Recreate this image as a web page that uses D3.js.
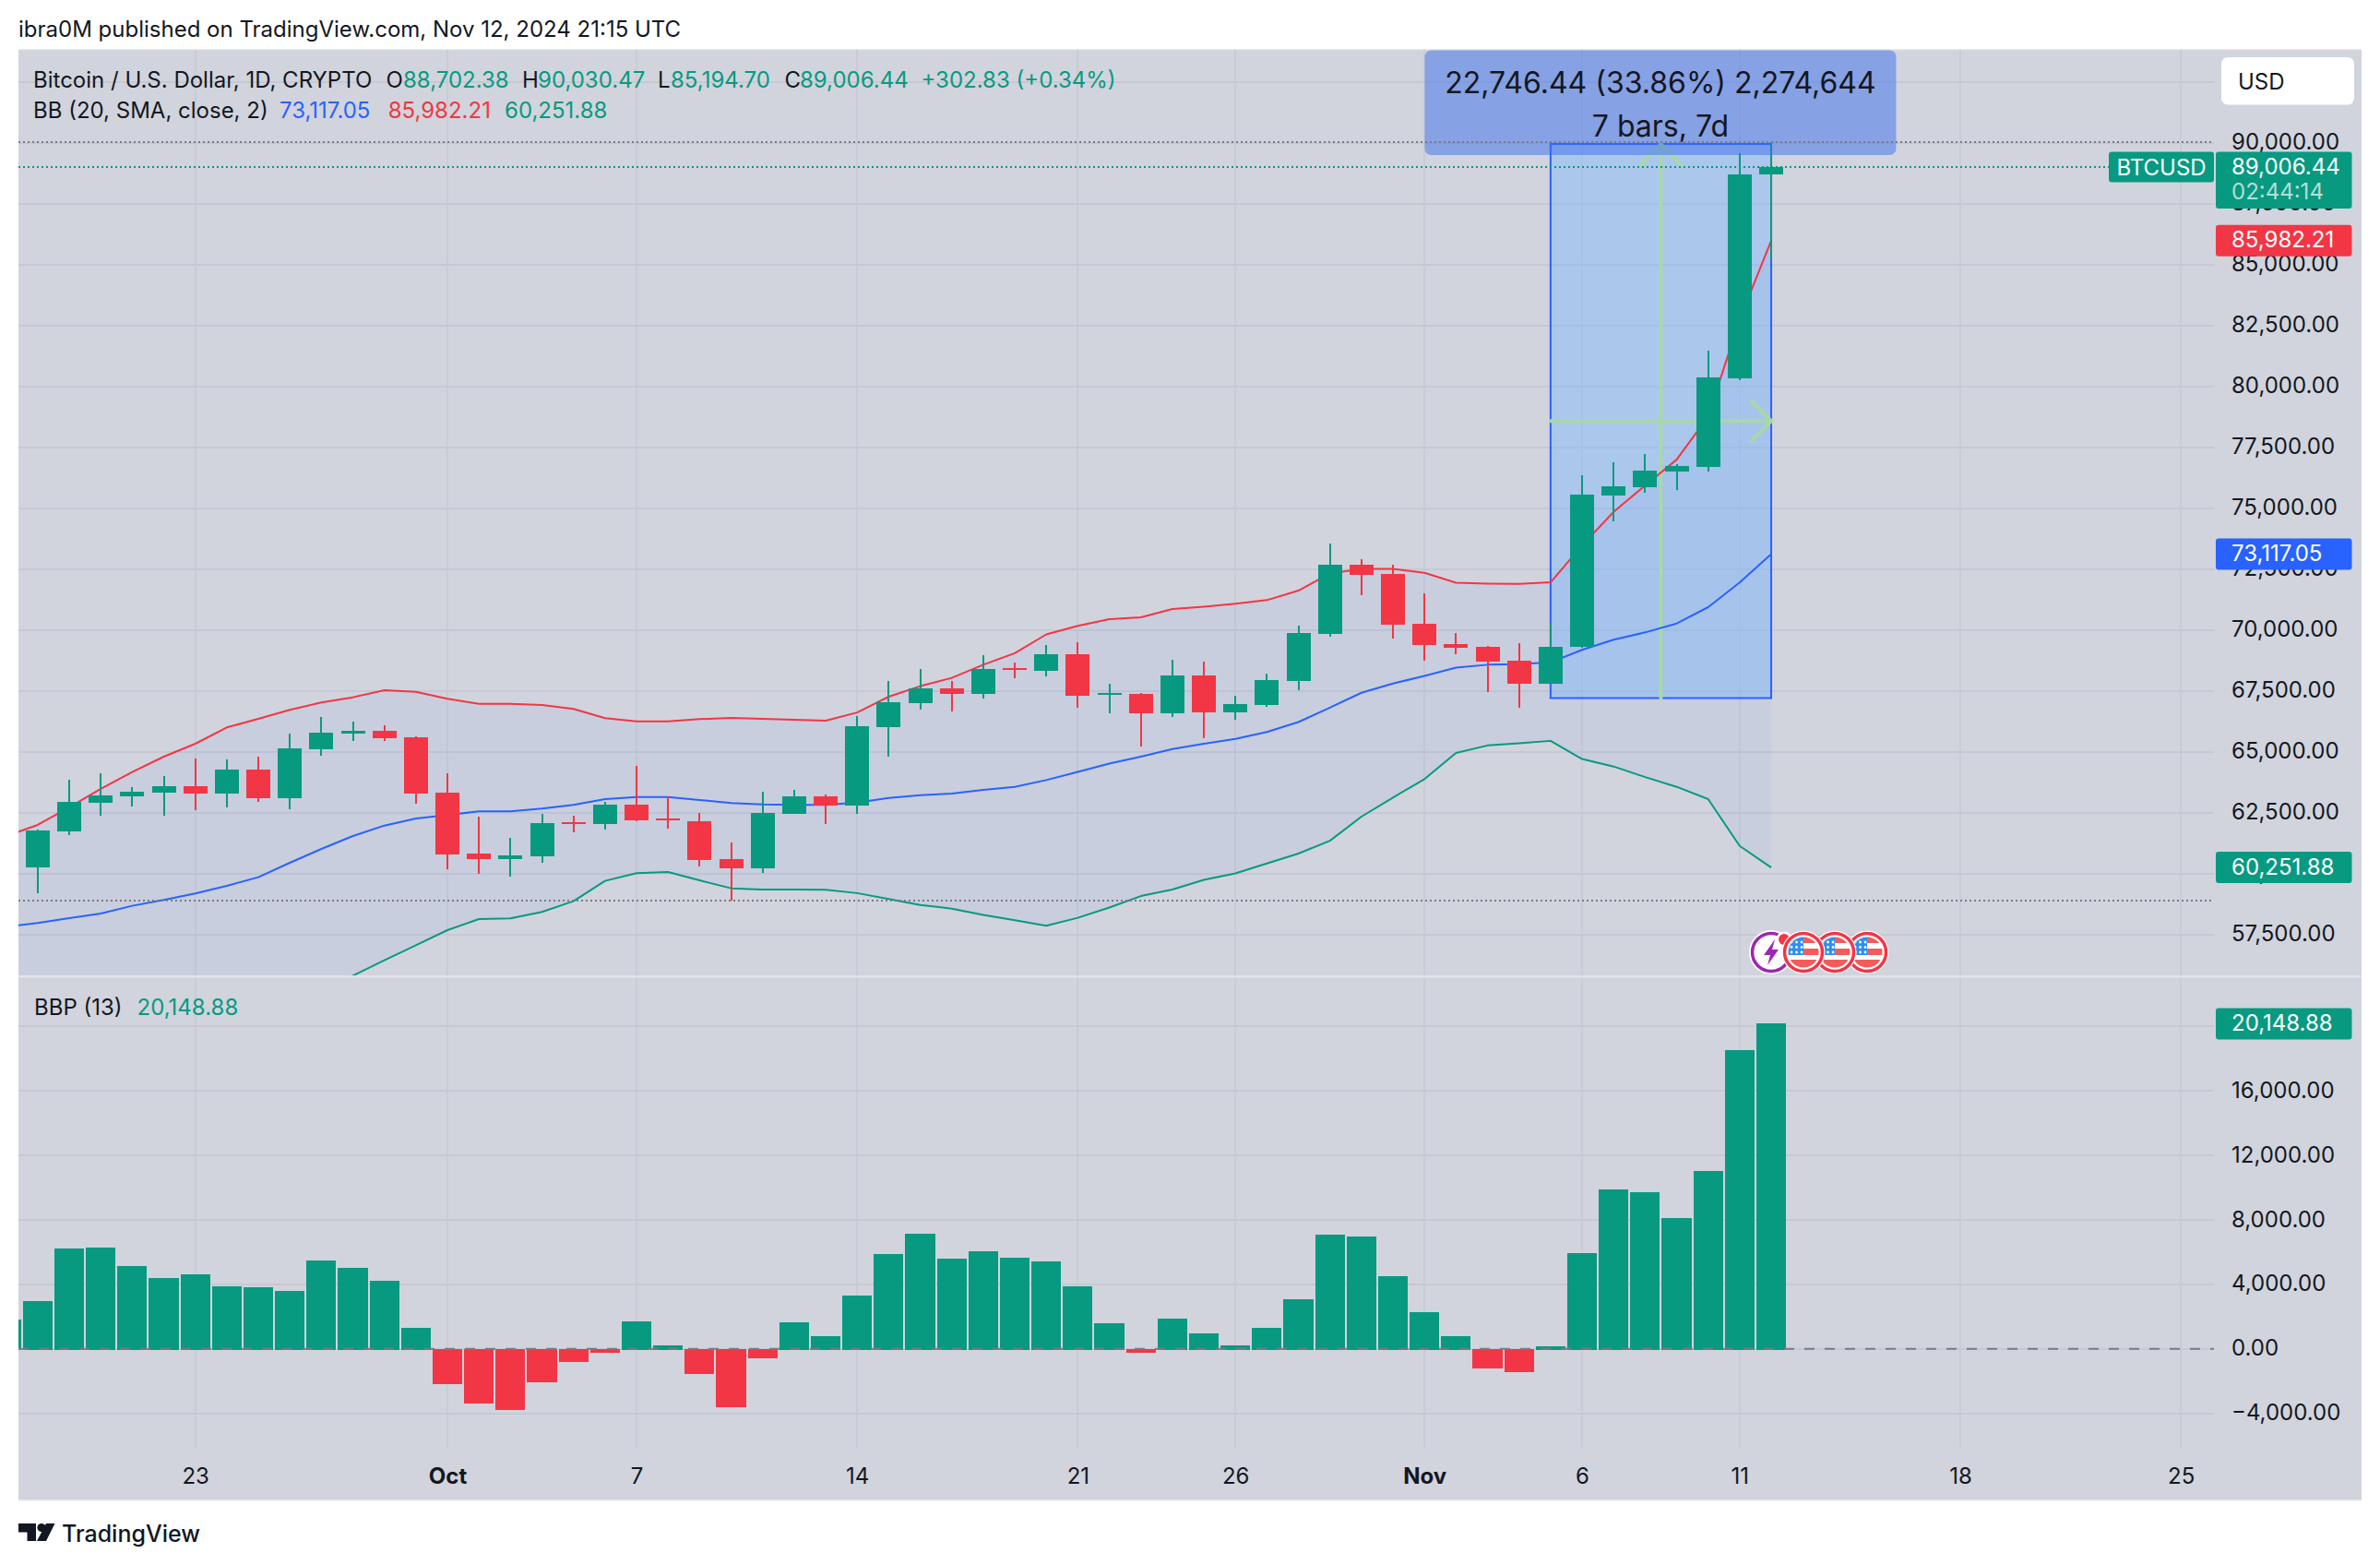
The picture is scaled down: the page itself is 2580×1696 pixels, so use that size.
<!DOCTYPE html>
<html>
<head>
<meta charset="utf-8">
<style>
html,body{margin:0;padding:0;background:#fff}
svg{display:block}
text{font-family:Inter,"Noto Sans",sans-serif;fill:#131722}
</style>
<script src="https://cdn.jsdelivr.net/npm/d3@7/dist/d3.min.js"></script>
</head>
<body>
<script>
const days = ["2024-09-17","2024-09-18","2024-09-19","2024-09-20","2024-09-21","2024-09-22","2024-09-23","2024-09-24","2024-09-25","2024-09-26","2024-09-27","2024-09-28","2024-09-29","2024-09-30",
"2024-10-01","2024-10-02","2024-10-03","2024-10-04","2024-10-05","2024-10-06","2024-10-07","2024-10-08","2024-10-09","2024-10-10","2024-10-11","2024-10-12","2024-10-13","2024-10-14","2024-10-15","2024-10-16","2024-10-17","2024-10-18","2024-10-19","2024-10-20","2024-10-21","2024-10-22","2024-10-23","2024-10-24","2024-10-25","2024-10-26","2024-10-27","2024-10-28","2024-10-29","2024-10-30","2024-10-31",
"2024-11-01","2024-11-02","2024-11-03","2024-11-04","2024-11-05","2024-11-06","2024-11-07","2024-11-08","2024-11-09","2024-11-10","2024-11-11","2024-11-12"];

// Candles start on 2024-09-18 (days[1])
const opens = [60254,61732,62906,63171,63323,63588,63285,64270,63095,65103,65747,65860,65595,63323,60823,60595,60709,62111,62035,62831,62262,62148,60595,60217,62452,63176,62797,66017,66990,67599,67369,68438,68316,69006,67342,67369,66585,68127,66612,66923,67910,69831,72672,72293,70251,69425,69304,68736,67789,69304,75514,75861,76499,76688,80326,88702.38];
const highs = [61800,63853,64118,63550,64004,64724,64686,64800,65747,66429,66239,66088,65633,64118,62338,61466,62452,62376,62944,64421,63171,62489,61277,63361,63433,63243,66463,67910,68397,67910,68965,68668,69385,69493,67789,67410,68776,68695,67302,68208,70183,73552,72902,72672,71509,69872,69344,69453,70291,76354,76876,77224,76800,81457,89575,90030.47];
const lows = [59207,61580,62376,62755,62376,62603,62716,62944,62641,64838,65444,65444,62868,60179,59989,59876,60444,61694,61807,62149,61846,60292,58891,60027,62445,62039,62445,64799,66733,66652,67180,68019,68100,66801,66585,65218,66422,65556,66314,66842,67532,69723,71428,69642,68736,69006,67450,66801,67789,69263,74455,75630,75745,76514,80268,85194.70];
const closes = [61770,62944,63209,63361,63588,63285,64270,63095,65141,65785,65860,65557,63285,60785,60595,60747,62073,62035,62831,62186,62186,60557,60217,62489,63171,62797,66044,67031,67599,67369,68397,68357,69006,67302,67410,66585,68127,66612,66964,67937,69872,72672,72266,70210,69385,69263,68695,67789,69304,75557,75891,76543,76731,80370,88706,89006.44];

// Bollinger bands from 2024-09-17 (the lower band's first values lie below the visible pane)
const bbUpper = [61542,61997,62717,63474,64168,64800,65330,65999,66353,66719,67022,67237,67527,67464,67173,66971,66971,66921,66757,66378,66252,66252,66340,66391,66353,66315,66274,66612,67261,67694,68032,68573,69047,69818,70170,70440,70521,70860,70954,71076,71225,71617,72320,72510,72510,72348,71942,71901,71888,71955,73469,74846,75933,76992,78761,82747,85982.21];
const bbBasis = [57818,57969,58171,58361,58677,58916,59181,59497,59850,60444,61012,61542,61971,62262,62401,62553,62553,62666,62818,63058,63146,63146,63020,62893,62843,62824,62824,62919,63108,63216,63284,63433,63555,63838,64177,64515,64799,65110,65327,65530,65814,66219,66815,67423,67802,68113,68452,68573,68600,68668,69182,69600,69900,70265,70936,71947,73117.05];
const bbLower = [53058,53058,53058,53058,53184,53310,53499,53815,54194,54636,55204,55810,56441,57060,57679,58133,58158,58424,58866,59699,60015,60065,59724,59396,59345,59347,59334,59198,58955,58711,58562,58305,58089,57859,58184,58604,59077,59347,59740,60010,60416,60822,61349,62337,63122,63879,64948,65259,65353,65448,64704,64395,63963,63561,63057,61136,60251.88];

// BBP (13) histogram from 2024-09-17
const bbp = [1810,2946,6218,6264,5127,4385,4617,3874,3805,3573,5475,5011,4199,1299,-2204,-3410,-3805,-2088,-835,-255,1694,209,-1578,-3619,-603,1624,766,3294,5870,7122,5591,6032,5638,5406,3874,1578,-255,1856,951,209,1299,3062,7076,6960,4501,2274,766,-1230,-1462,139,5916,9860,9698,8097,11020,18514,20148.88];

const priceGrid = [92500,90000,87500,85000,82500,80000,77500,75000,72500,70000,67500,65000,62500,60000,57500];
const priceLabels = [90000,87500,85000,82500,80000,77500,75000,72500,70000,67500,65000,62500,60000,57500];
const bbpTicks = [20000,16000,12000,8000,4000,0,-4000];
const bbpLabels = [16000,12000,8000,4000,0,-4000];
const timeTicks = ["2024-09-23","2024-10-01","2024-10-07","2024-10-14","2024-10-21","2024-10-26","2024-11-01","2024-11-06","2024-11-11","2024-11-18","2024-11-25"];
const rangeDays = ["2024-11-05","2024-11-12"];
const rangePrices = [67204,89950];
const eventDay = "2024-11-12";

const UP="#089981", DOWN="#F23645", BLUE="#2962FF", INK="#131722", GREY="#787B86";
const GRID="#C6C9D3", GRIDV="#C9CCD6", PANEL="#D1D4DC", ARROW="#A8D8AA";
const FS=24;

const parse = d3.utcParse("%Y-%m-%d");
const W=2580,H=1696, L=20,R=2560,T=54,B=1626, AX=2400, SEP=1058, PB=1569;

const x = d3.scaleUtc().domain([parse("2024-09-23"),parse("2024-11-25")]).range([211.7,2364.2]);
const y = d3.scaleLinear().domain([90000,57500]).range([154.7,1012.7]);
const yb = d3.scaleLinear().domain([16000,-4000]).range([1182,1531.6]);
const xd = s => x(parse(s));

const svg = d3.select("body").append("svg").attr("width",W).attr("height",H).attr("viewBox",`0 0 ${W} ${H}`);
const defs = svg.append("defs");
defs.append("clipPath").attr("id","pane1").append("rect").attr("x",L).attr("y",T).attr("width",AX-L).attr("height",SEP-T);
defs.append("clipPath").attr("id","pane2").append("rect").attr("x",L).attr("y",SEP).attr("width",AX-L).attr("height",PB-SEP);

const txt=(s,px,py,str,fill,opt={})=>s.append("text").attr("x",px).attr("y",py).attr("dy",".36em")
  .attr("font-size",opt.size||FS).attr("text-anchor",opt.anchor||"start").attr("font-weight",opt.weight||400)
  .style("fill",fill||INK).attr("fill-opacity",opt.op==null?1:opt.op).text(str);

// Panel
svg.append("rect").attr("x",L).attr("y",T).attr("width",R-L).attr("height",B-T).attr("fill",PANEL);
svg.append("rect").attr("x",L).attr("y",T-1).attr("width",R-L).attr("height",1.5).attr("fill","#E4E6EC");
svg.append("rect").attr("x",L).attr("y",B-1).attr("width",R-L).attr("height",1.5).attr("fill","#E4E6EC");

// Grid
const grid = svg.append("g").attr("shape-rendering","crispEdges");
grid.selectAll(".gv").data(timeTicks).join("line").attr("class","gv")
  .attr("x1",d=>xd(d)).attr("x2",d=>xd(d)).attr("y1",T).attr("y2",PB).attr("stroke",GRIDV).attr("stroke-width",2);
grid.selectAll(".gh").data(priceGrid).join("line").attr("class","gh")
  .attr("x1",L).attr("x2",AX).attr("y1",d=>y(d)).attr("y2",d=>y(d)).attr("stroke",GRID).attr("stroke-width",2);
grid.selectAll(".gb").data(bbpTicks).join("line").attr("class","gb")
  .attr("x1",L).attr("x2",AX).attr("y1",d=>yb(d)).attr("y2",d=>yb(d)).attr("stroke",GRID).attr("stroke-width",2);

// Pane 1
const p1 = svg.append("g").attr("clip-path","url(#pane1)");
const band = days.map((d,i)=>({d,u:bbUpper[i],b:bbBasis[i],l:bbLower[i]}));
p1.append("path").datum(band).attr("fill","rgba(41,98,255,0.05)")
  .attr("d",d3.area().x(d=>xd(d.d)).y0(d=>y(d.l)).y1(d=>y(d.u)));

// Price range tool
const rx0=xd(rangeDays[0]), rx1=xd(rangeDays[1]), ry0=y(rangePrices[1]), ry1=y(rangePrices[0]);
const rmx=(rx0+rx1)/2, rmy=(ry0+ry1)/2;
p1.append("rect").attr("x",rx0).attr("y",ry0).attr("width",rx1-rx0).attr("height",ry1-ry0)
  .attr("fill","rgba(120,182,255,0.42)").attr("stroke",BLUE).attr("stroke-width",2);
const arrow = p1.append("g").attr("fill","none").attr("stroke",ARROW).attr("stroke-width",4).attr("stroke-linecap","round").attr("stroke-linejoin","round");
arrow.append("line").attr("x1",rmx).attr("x2",rmx).attr("y1",ry1).attr("y2",ry0);
arrow.append("polyline").attr("points",`${rmx-22},${ry0+23} ${rmx},${ry0} ${rmx+22},${ry0+23}`);
arrow.append("line").attr("x1",rx0).attr("x2",rx1).attr("y1",rmy).attr("y2",rmy);
arrow.append("polyline").attr("points",`${rx1-21},${rmy-21} ${rx1},${rmy} ${rx1-21},${rmy+21}`);

// Band lines
const lineOf = key => d3.line().x(d=>xd(d.d)).y(d=>y(d[key]));
[["u",DOWN],["b",BLUE],["l",UP]].forEach(([k,c])=>{
  p1.append("path").datum(band).attr("d",lineOf(k)).attr("fill","none").attr("stroke",c).attr("stroke-width",2).attr("stroke-linejoin","round");
});

// Candles
const candles = opens.map((o,i)=>({d:days[i+1],o,h:highs[i],l:lows[i],c:closes[i]}));
const cg = p1.append("g").selectAll("g").data(candles).join("g").attr("shape-rendering","crispEdges");
const cc = d=>d.c>=d.o?UP:DOWN;
cg.append("rect").attr("x",d=>xd(d.d)-1).attr("width",2).attr("y",d=>y(d.h)).attr("height",d=>y(d.l)-y(d.h)).attr("fill",cc);
cg.append("rect").attr("x",d=>xd(d.d)-13).attr("width",26)
  .attr("y",d=>y(Math.max(d.o,d.c))).attr("height",d=>Math.max(2,Math.abs(y(d.o)-y(d.c)))).attr("fill",cc);

// High / low / last dotted lines
const hiP=d3.max(highs), loP=d3.min(lows), last=closes[closes.length-1];

// Range label
const box = svg.append("g");
box.append("rect").attr("x",rmx-256).attr("y",54.5).attr("width",511).attr("height",113.5).attr("rx",7)
  .attr("fill","rgba(60,110,235,0.5)");
txt(box,rmx-0.5,89,"22,746.44 (33.86%) 2,274,644",INK,{size:32,anchor:"middle"});
txt(box,rmx-0.5,136,"7 bars, 7d",INK,{size:32,anchor:"middle"});

[[hiP,GREY,AX],[loP,GREY,AX],[last,UP,2286]].forEach(([v,c,xe])=>{
  svg.append("line").attr("x1",L).attr("x2",xe).attr("y1",y(v)).attr("y2",y(v)).attr("stroke",c).attr("stroke-width",2).attr("stroke-dasharray","2 3");
});

// Event icons
const evX = xd(eventDay);
const ev = svg.append("g").attr("transform",`translate(${evX},1032)`);
[104,69,35].forEach((dx,k)=>{
  const g=ev.append("g").attr("transform",`translate(${dx},0)`);
  g.append("circle").attr("r",23.5).attr("fill","#fff");
  g.append("circle").attr("r",20.5).attr("fill","#fff").attr("stroke",DOWN).attr("stroke-width",3.5);
  const cid="fl"+k;
  defs.append("clipPath").attr("id",cid).append("circle").attr("r",16.5);
  const f=g.append("g").attr("clip-path",`url(#${cid})`);
  f.append("rect").attr("x",0).attr("y",-17).attr("width",18).attr("height",7).attr("fill","#F55B5B");
  f.append("rect").attr("x",0).attr("y",-4).attr("width",18).attr("height",7).attr("fill","#F55B5B");
  f.append("rect").attr("x",-18).attr("y",8).attr("width",36).attr("height",10).attr("fill","#F55B5B");
  f.append("rect").attr("x",-18).attr("y",-17).attr("width",18).attr("height",20).attr("fill","#2E8FEF");
  d3.range(3).forEach(r=>d3.range(3).forEach(c=>{
    f.append("circle").attr("cx",-13+c*5.5).attr("cy",-11+r*5.5).attr("r",1.4).attr("fill","#fff");
  }));
});
{
  const g=ev.insert("g",":first-child");
  g.append("circle").attr("r",24).attr("fill","#fff");
  g.append("circle").attr("r",20.5).attr("fill","#fff").attr("stroke","#9C27B0").attr("stroke-width",3.5);
  g.append("polygon").attr("points","4,-14 -8,3 -1,3 -4,14 8,-3 1,-3").attr("fill","#9C27B0");
  g.append("circle").attr("cx",14).attr("cy",-14).attr("r",8.5).attr("fill","#fff");
  g.append("circle").attr("cx",14).attr("cy",-14).attr("r",6).attr("fill",DOWN);
}

// Pane divider
svg.append("rect").attr("x",L).attr("y",SEP-1).attr("width",R-L).attr("height",2.5).attr("fill","#E1E3EB");

// Pane 2
const p2 = svg.append("g").attr("clip-path","url(#pane2)");
const bars = days.map((d,i)=>({d,v:bbp[i]}));
p2.append("g").attr("shape-rendering","crispEdges").selectAll("rect").data(bars).join("rect")
  .attr("x",d=>xd(d.d)-16.1).attr("width",32.2)
  .attr("y",d=>Math.min(yb(d.v),yb(0))).attr("height",d=>Math.abs(yb(d.v)-yb(0))+(d.v>0?1.5:0))
  .attr("fill",d=>d.v>=0?UP:DOWN);
p2.append("line").attr("x1",L).attr("x2",AX).attr("y1",yb(0)).attr("y2",yb(0))
  .attr("stroke",GREY).attr("stroke-width",2).attr("stroke-dasharray","11 11");

// Axes
const fmt = d3.format(",.2f");
const styleAxis = a => { a.select(".domain").remove(); a.selectAll("text").attr("font-size",FS).attr("dy",".3em").style("fill",INK); };
svg.append("g").attr("transform","translate(2419,0)").call(d3.axisRight(y).tickValues(priceLabels).tickSize(0).tickPadding(0).tickFormat(fmt)).call(styleAxis).attr("font-family",null);
svg.append("g").attr("transform","translate(2419,0)").call(d3.axisRight(yb).tickValues(bbpLabels).tickSize(0).tickPadding(0).tickFormat(fmt)).call(styleAxis).attr("font-family",null);
const timeFmt = d => { const m=d.getUTCDate()===1; return m?d3.utcFormat("%b")(d):String(d.getUTCDate()); };
svg.append("g").attr("transform","translate(0,1599.5)").call(d3.axisBottom(x).tickValues(timeTicks.map(parse)).tickSize(0).tickPadding(0).tickFormat(timeFmt))
  .call(a=>{a.select(".domain").remove();a.selectAll("text").attr("font-size",FS).attr("dy",".36em").attr("y",0).style("fill",INK)
    .attr("font-weight",d=>d.getUTCDate()===1?700:400);}).attr("font-family",null);

// Price tags
const tag=(x0,y0,w,h,c,r=3)=>svg.append("rect").attr("x",x0).attr("y",y0).attr("width",w).attr("height",h).attr("rx",r).attr("fill",c);
tag(2286,164.5,114,33,UP);
txt(svg,2343,181,"BTCUSD","#fff",{anchor:"middle"});
tag(2402,164.5,147.5,61.5,UP);
txt(svg,2419,180,fmt(last),"#fff");
txt(svg,2419,207,"02:44:14","#fff",{op:.7});
const tagLast=(v,c,scale)=>{const yy=scale(v);tag(2402,yy-17,147.5,34,c);txt(svg,2419,yy-1,fmt(v),"#fff");};
tagLast(bbUpper[bbUpper.length-1],DOWN,y);
tagLast(bbBasis[bbBasis.length-1],BLUE,y);
tagLast(bbLower[bbLower.length-1],UP,y);
tagLast(bbp[bbp.length-1],UP,yb);

// USD button
tag(2408,62,144,51.5,"#fff",7);
txt(svg,2426,88,"USD",INK);

// Header and legends
txt(svg,20,31,"ibra0M published on TradingView.com, Nov 12, 2024 21:15 UTC",INK);
txt(svg,36,86,"Bitcoin / U.S. Dollar, 1D, CRYPTO",INK);
txt(svg,418.5,86,"O",INK); txt(svg,437,86,fmt(opens[opens.length-1]),UP);
txt(svg,566,86,"H",INK); txt(svg,583,86,fmt(hiP),UP);
txt(svg,713,86,"L",INK); txt(svg,727,86,fmt(lows[lows.length-1]),UP);
txt(svg,850.5,86,"C",INK); txt(svg,867,86,fmt(last),UP);
txt(svg,998.5,86,"+302.83 (+0.34%)",UP);
txt(svg,36,119.5,"BB (20, SMA, close, 2)",INK);
txt(svg,303,119.5,fmt(bbBasis[bbBasis.length-1]),BLUE);
txt(svg,420.7,119.5,fmt(bbUpper[bbUpper.length-1]),DOWN);
txt(svg,547,119.5,fmt(bbLower[bbLower.length-1]),UP);
txt(svg,37,1091.5,"BBP (13)",INK);
txt(svg,148.6,1091.5,fmt(bbp[bbp.length-1]),UP);

// Footer logo
const lg=svg.append("g").attr("fill",INK);
lg.append("path").attr("d","M20 1651H39V1670H29.5V1660.5H20Z");
lg.append("circle").attr("cx",45).attr("cy",1655.5).attr("r",4.6);
lg.append("path").attr("d","M50 1651H59.5L50 1670H40Z");
txt(svg,67,1661.5,"TradingView",INK,{size:25,weight:500});
</script>
</body>
</html>
